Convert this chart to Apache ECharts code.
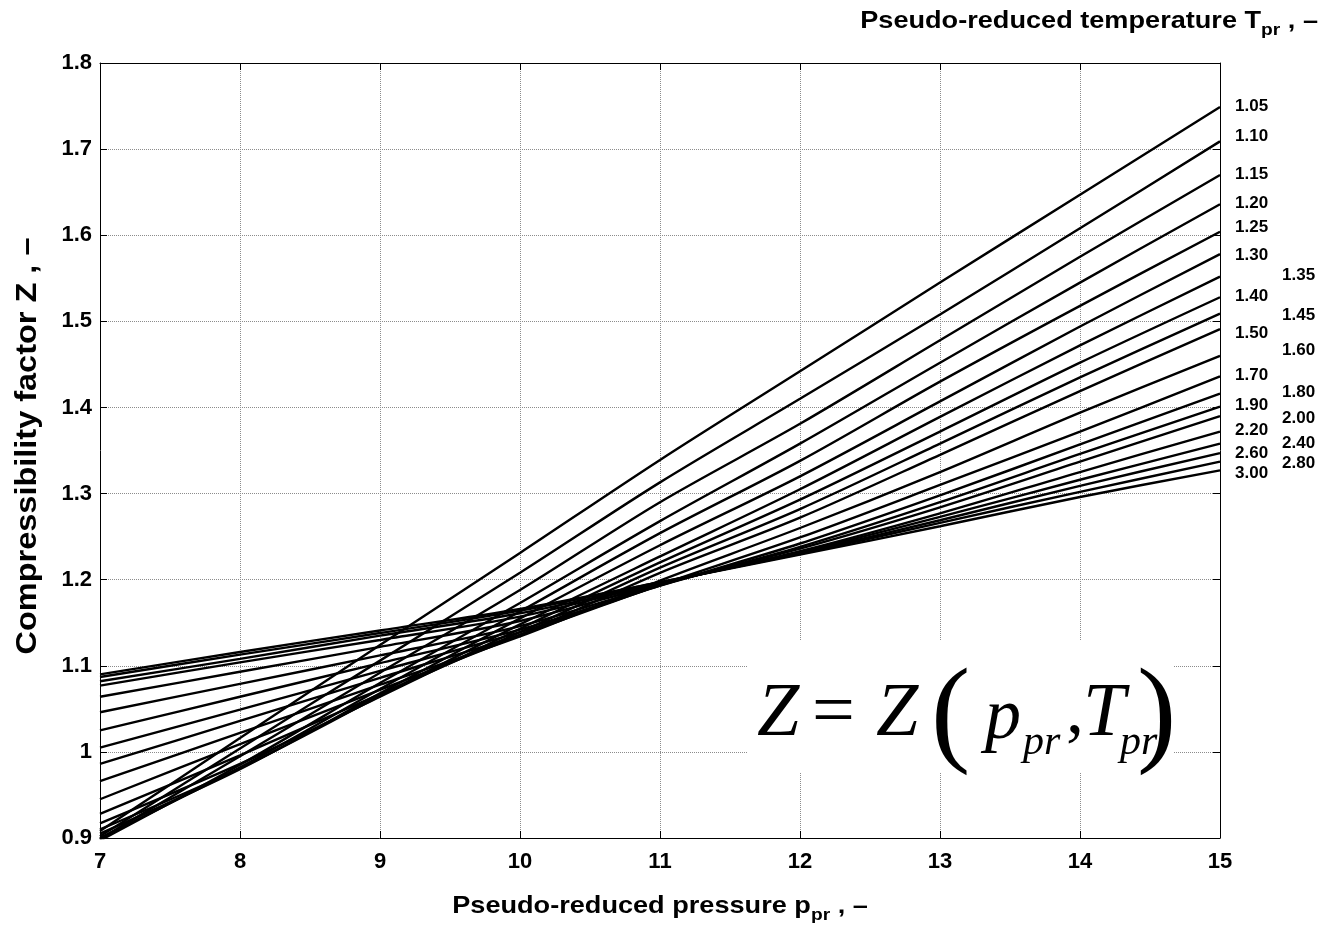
<!DOCTYPE html>
<html>
<head>
<meta charset="utf-8">
<script src="https://cdn.jsdelivr.net/npm/echarts@6/dist/echarts.min.js"></script>
<style>
  html, body { margin: 0; padding: 0; background: #fff; }
  #chart { width: 1324px; height: 929px; }
</style>
</head>
<body>
<div id="chart"></div>
<script>
// pseudo-reduced pressure (x)
var pressure = [7, 8, 9, 10, 11, 12, 13, 14, 15];
// pseudo-reduced temperature of each curve
var tprNames = ['1.05', '1.10', '1.15', '1.20', '1.25', '1.30', '1.35', '1.40', '1.45', '1.50',
  '1.60', '1.70', '1.80', '1.90', '2.00', '2.20', '2.40', '2.60', '2.80', '3.00'];
// compressibility factor Z, read at p_pr = 7..15
var z105 = [0.908, 1.016, 1.124, 1.231, 1.339, 1.442, 1.545, 1.647, 1.749];
var z110 = [0.902, 1.004, 1.106, 1.208, 1.313, 1.410, 1.508, 1.608, 1.709];
var z115 = [0.899, 0.995, 1.092, 1.188, 1.290, 1.381, 1.478, 1.575, 1.670];
var z120 = [0.897, 0.985, 1.080, 1.173, 1.268, 1.358, 1.452, 1.545, 1.636];
var z125 = [0.900, 0.982, 1.073, 1.163, 1.254, 1.338, 1.430, 1.518, 1.604];
var z130 = [0.905, 0.980, 1.068, 1.155, 1.240, 1.320, 1.407, 1.494, 1.578];
var z135 = [0.910, 0.981, 1.065, 1.148, 1.227, 1.305, 1.389, 1.472, 1.552];
var z140 = [0.917, 0.986, 1.064, 1.143, 1.220, 1.293, 1.372, 1.452, 1.528];
var z145 = [0.928, 0.996, 1.067, 1.139, 1.214, 1.282, 1.358, 1.435, 1.509];
var z150 = [0.945, 1.009, 1.072, 1.136, 1.208, 1.272, 1.345, 1.419, 1.491];
var z160 = [0.966, 1.022, 1.078, 1.134, 1.199, 1.260, 1.325, 1.394, 1.460];
var z170 = [0.986, 1.036, 1.086, 1.136, 1.194, 1.249, 1.310, 1.372, 1.436];
var z180 = [1.005, 1.049, 1.094, 1.139, 1.193, 1.242, 1.298, 1.357, 1.416];
var z190 = [1.025, 1.064, 1.103, 1.142, 1.193, 1.238, 1.290, 1.346, 1.401];
var z200 = [1.046, 1.079, 1.112, 1.146, 1.194, 1.236, 1.284, 1.337, 1.390];
var z220 = [1.064, 1.093, 1.122, 1.152, 1.195, 1.233, 1.277, 1.325, 1.372];
var z240 = [1.077, 1.104, 1.130, 1.157, 1.196, 1.232, 1.273, 1.316, 1.358];
var z260 = [1.082, 1.108, 1.135, 1.161, 1.196, 1.231, 1.269, 1.309, 1.347];
var z280 = [1.087, 1.113, 1.138, 1.164, 1.197, 1.230, 1.266, 1.302, 1.337];
var z300 = [1.090, 1.116, 1.141, 1.166, 1.197, 1.229, 1.262, 1.296, 1.327];
var zCurves = [z105, z110, z115, z120, z125, z130, z135, z140, z145, z150,
  z160, z170, z180, z190, z200, z220, z240, z260, z280, z300];

// y ticks
var zMin = 0.9, zMax = 1.8, zStep = 0.1;

// labels that sit in the second (outer) column on the right
var outerCol = ['1.35', '1.45', '1.60', '1.80', '2.00', '2.40', '2.80'];
// small vertical nudges of the end labels (px), as in the original figure
var labelNudge = { '1.10': -5, '1.25': -4, '1.30': 1, '1.45': 2, '1.50': 4, '1.60': -5,
  '2.00': 2, '2.40': 0, '2.60': 0, '2.80': 2, '3.00': 3 };

var FONT = 'Arial, "Liberation Sans", Helvetica, sans-serif';
var SERIF = '"Times New Roman", "Liberation Serif", serif';

var chart = echarts.init(document.getElementById('chart'), null, { renderer: 'canvas' });

var series = zCurves.map(function (zs, i) {
  var name = tprNames[i];
  var outer = outerCol.indexOf(name) >= 0;
  var nudge = labelNudge[name];
  return {
    name: name,
    type: 'line',
    data: pressure.map(function (p, k) { return [p, zs[k]]; }),
    smooth: 0.3,
    showSymbol: false,
    silent: true,
    clip: true,
    lineStyle: { color: '#000', width: 2.4 },
    endLabel: {
      show: true,
      formatter: name,
      distance: outer ? 62 : 15,
      offset: [0, nudge === undefined ? -1 : nudge],
      color: '#000',
      fontFamily: FONT,
      fontWeight: 'bold',
      fontSize: 17
    },
    z: 3
  };
});

var tickStyle = { show: true, inside: true, length: 7, lineStyle: { color: '#000', width: 1 } };
var gridLine = { show: true, lineStyle: { color: '#8c8c8c', type: 'dotted', width: 1 } };
var lbl = { color: '#000', fontFamily: FONT, fontWeight: 'bold', fontSize: 22 };

var option = {
  backgroundColor: '#fff',
  animation: false,
  grid: { left: 100, right: 104, top: 63, bottom: 91, containLabel: false },
  xAxis: [{
    type: 'value', min: 7, max: 15, interval: 1, position: 'bottom',
    axisLine: { show: true, lineStyle: { color: '#000', width: 1 } },
    axisTick: tickStyle,
    splitLine: gridLine,
    axisLabel: Object.assign({ margin: 13 }, lbl)
  }, {
    type: 'value', min: 7, max: 15, interval: 1, position: 'top',
    axisLine: { show: true, lineStyle: { color: '#000', width: 1 } },
    axisTick: tickStyle,
    splitLine: { show: false },
    axisLabel: { show: false }
  }],
  yAxis: [{
    type: 'value', min: zMin, max: zMax, interval: zStep, position: 'left',
    axisLine: { show: true, lineStyle: { color: '#000', width: 1 } },
    axisTick: tickStyle,
    splitLine: gridLine,
    axisLabel: Object.assign({ margin: 8, formatter: function (v) { return String(+v.toFixed(1)); } }, lbl)
  }, {
    type: 'value', min: zMin, max: zMax, interval: zStep, position: 'right',
    axisLine: { show: true, lineStyle: { color: '#000', width: 1 } },
    axisTick: tickStyle,
    splitLine: { show: false },
    axisLabel: { show: false }
  }],
  series: series,
  graphic: [
    // white box behind the formula
    {
      type: 'rect', shape: { x: 748, y: 640, width: 426, height: 132 },
      style: { fill: '#fff' }, z: 2, silent: true
    },
    { type: 'text', left: 757, top: 677, z: 10, silent: true,
      style: { text: 'Z', font: 'italic 76px ' + SERIF, fill: '#000' } },
    { type: 'text', left: 812, top: 677, z: 10, silent: true,
      style: { text: '=', font: '76px ' + SERIF, fill: '#000' } },
    { type: 'text', left: 876, top: 677, z: 10, silent: true,
      style: { text: 'Z', font: 'italic 76px ' + SERIF, fill: '#000' } },
    { type: 'text', left: 931, top: 660, z: 10, silent: true,
      style: { text: '(', font: '118px ' + SERIF, fill: '#000' } },
    { type: 'text', left: 985, top: 683, z: 10, silent: true,
      style: { text: 'p', font: 'italic 72px ' + SERIF, fill: '#000' } },
    { type: 'text', left: 1023, top: 722, z: 10, silent: true,
      style: { text: 'pr', font: 'italic 42px ' + SERIF, fill: '#000' } },
    { type: 'text', left: 1066, top: 677, z: 10, silent: true,
      style: { text: ',', font: '72px ' + SERIF, fill: '#000' } },
    { type: 'text', left: 1083, top: 677, z: 10, silent: true,
      style: { text: 'T', font: 'italic 76px ' + SERIF, fill: '#000' } },
    { type: 'text', left: 1120, top: 722, z: 10, silent: true,
      style: { text: 'pr', font: 'italic 42px ' + SERIF, fill: '#000' } },
    { type: 'text', left: 1137, top: 660, z: 10, silent: true,
      style: { text: ')', font: '118px ' + SERIF, fill: '#000' } },

    // axis titles
    {
      type: 'text', x: 660, y: 888, scaleX: 1.13, silent: true,
      style: {
        text: '{t|Pseudo-reduced pressure p}{s|pr}{t| , –}',
        align: 'center',
        rich: {
          t: { fontFamily: FONT, fontWeight: 'bold', fontSize: 24, lineHeight: 36, fill: '#000', verticalAlign: 'middle' },
          s: { fontFamily: FONT, fontWeight: 'bold', fontSize: 17, lineHeight: 17, fill: '#000', verticalAlign: 'bottom' }
        }
      }
    },
    {
      type: 'text', x: 1318, y: 3, scaleX: 1.13, silent: true,
      style: {
        text: '{t|Pseudo-reduced temperature T}{s|pr}{t| , –}',
        align: 'right',
        rich: {
          t: { fontFamily: FONT, fontWeight: 'bold', fontSize: 24, lineHeight: 36, fill: '#000', verticalAlign: 'middle' },
          s: { fontFamily: FONT, fontWeight: 'bold', fontSize: 17, lineHeight: 17, fill: '#000', verticalAlign: 'bottom' }
        }
      }
    },
    {
      type: 'text', x: 28, y: 446, rotation: Math.PI / 2, scaleX: 1.12, silent: true,
      style: {
        text: 'Compressibility factor Z , –',
        fontFamily: FONT, fontWeight: 'bold', fontSize: 29, fill: '#000',
        align: 'center', verticalAlign: 'middle'
      }
    }
  ]
};

chart.setOption(option);
</script>
</body>
</html>
